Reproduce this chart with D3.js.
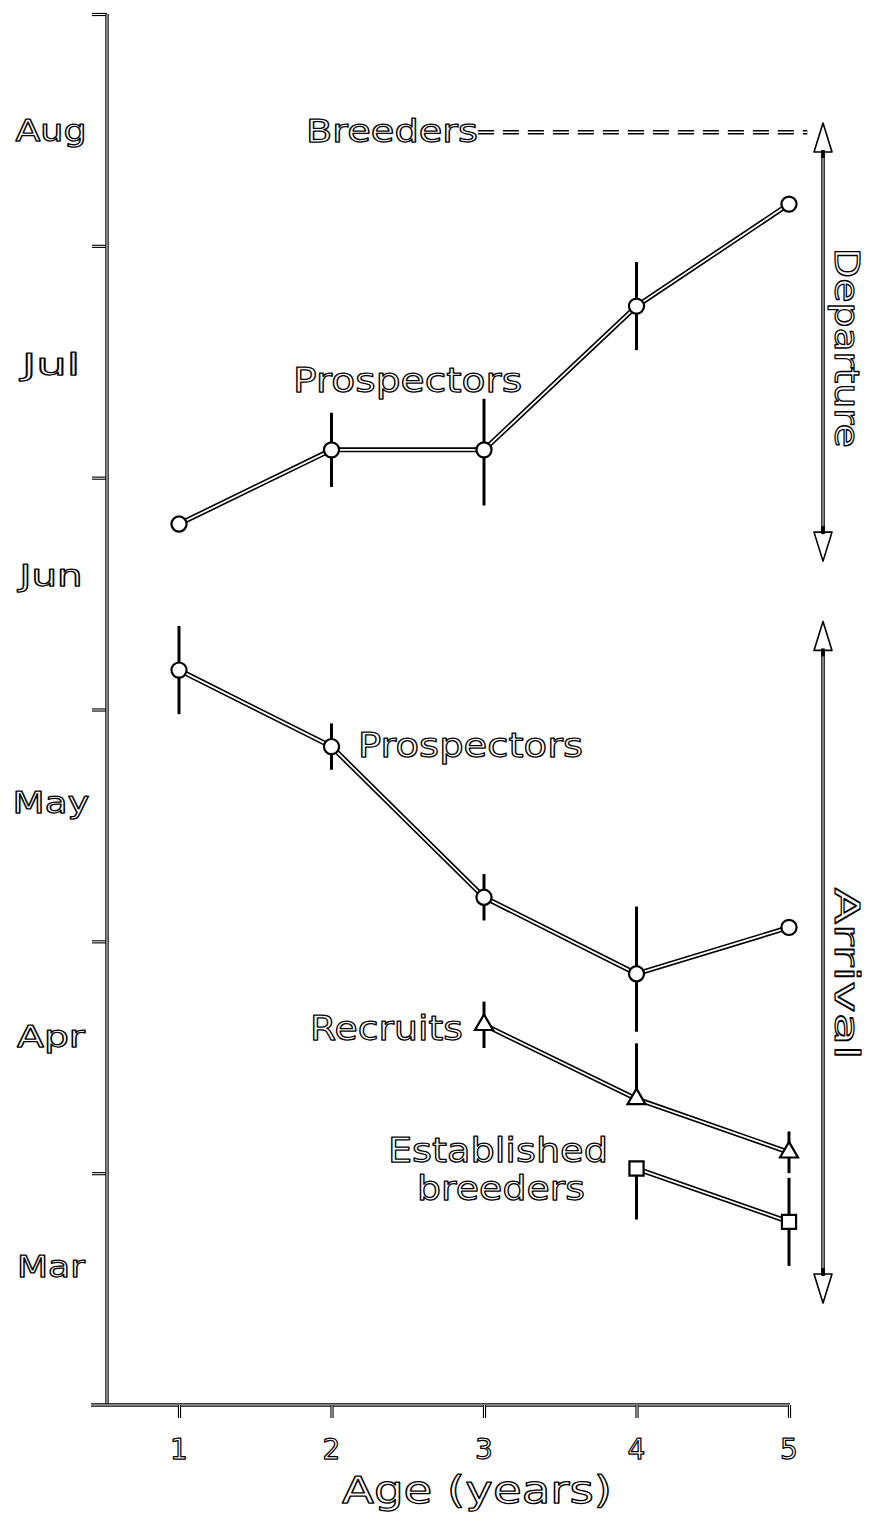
<!DOCTYPE html>
<html><head><meta charset="utf-8">
<script src="https://cdn.jsdelivr.net/npm/d3@7"></script>
<style>body{margin:0;background:#fff}</style>
</head><body>
<script>
// ---- data (y values = months after 1 March) ----
const ages = [1, 2, 3, 4, 5];
const monthLabels = ["Mar", "Apr", "May", "Jun", "Jul", "Aug"];
const monthLabelPos = [0.60, 1.59, 2.60, 3.58, 4.49, 5.50];
const monthTicks = [1, 2, 3, 4, 5, 6];
const depProspectors = [3.80, 4.12, 4.12, 4.74, 5.18];
const depProspectorsErrUp = [0, 0.16, 0.22, 0.19, 0];
const depProspectorsErrDown = [0, 0.16, 0.24, 0.19, 0];
const arrProspectors = [3.17, 2.84, 2.19, 1.86, 2.06];
const arrProspectorsErrUp = [0.19, 0.10, 0.10, 0.29, 0];
const arrProspectorsErrDown = [0.19, 0.10, 0.10, 0.25, 0];
const recruitAges = [3, 4, 5];
const recruits = [1.64, 1.32, 1.09];
const recruitsErrUp = [0.10, 0.24, 0.09];
const recruitsErrDown = [0.10, 0, 0.09];
const breederAges = [4, 5];
const estBreeders = [1.02, 0.79];
const estBreedersErrUp = [0, 0.19];
const estBreedersErrDown = [0.22, 0.19];
const breedersDeparture = 5.49;
const departureRange = [3.64, 5.53];
const arrivalRange = [0.44, 3.38];

const W = 871, H = 1534;
const FONT = "'DejaVu Sans', 'Noto Sans', sans-serif";
const svg = d3.select("body").append("svg").attr("width", W).attr("height", H);

const x = d3.scaleLinear().domain([1, 5]).range([179, 789]);
const y = d3.scaleLinear().domain([0, 6]).range([1405, 14]);
const axisX0 = 107;

// outlined (hollow) stroke helper
function hollow(sel, wOuter, wInner) {
  sel.each(function () {
    const node = this;
    const clone = node.cloneNode(true);
    node.parentNode.insertBefore(clone, node.nextSibling);
    d3.select(node).attr("stroke", "#000").attr("stroke-width", wOuter).attr("fill", "none");
    d3.select(clone).attr("stroke", "#fff").attr("stroke-width", wInner).attr("fill", "none");
  });
}
function outlinedText(g, txt, px, py, size, len, anchor) {
  const t = g.append("text").attr("x", px).attr("y", py).text(txt)
    .attr("font-family", FONT).attr("font-size", size)
    .attr("fill", "#fff").attr("stroke", "#000").attr("stroke-width", 1.25)
    .attr("stroke-linejoin", "round")
    .attr("text-anchor", anchor || "start");
  if (len) t.attr("textLength", len).attr("lengthAdjust", "spacingAndGlyphs");
  return t;
}

// ---- axes ----
const axG = svg.append("g");
const yAxisGen = d3.axisLeft(y).tickValues(monthTicks).tickSize(15).tickSizeOuter(0).tickFormat("");
const yAx = axG.append("g").attr("transform", `translate(${axisX0},0)`).call(yAxisGen);
yAx.select(".domain").remove();
yAx.selectAll("text").remove();
hollow(yAx.selectAll(".tick line"), 3.2, 1);
const yLine = axG.append("line").attr("x1", axisX0).attr("x2", axisX0).attr("y1", y(6)).attr("y2", y(0));
hollow(yLine, 3.4, 1);
const xLine = axG.append("line").attr("x1", axisX0 - 16).attr("x2", x(5) + 1).attr("y1", y(0)).attr("y2", y(0));
hollow(xLine, 3.4, 1);
const xAx = axG.append("g").attr("transform", `translate(0,${y(0)})`)
  .call(d3.axisBottom(x).tickValues(ages).tickSize(13).tickSizeOuter(0).tickFormat(""));
xAx.select(".domain").remove();
hollow(xAx.selectAll(".tick line"), 3.2, 1);

// tick labels
const lblG = svg.append("g");
ages.forEach(a => outlinedText(lblG, String(a), x(a), y(0) + 54, 28, null, "middle"));
const monthWidths = [68, 68, 77, 63, 58, 71];
monthLabels.forEach((m, i) => {
  outlinedText(lblG, m, 51, y(monthLabelPos[i]), 30, monthWidths[i], "middle").attr("dy", "0.36em");
});
outlinedText(lblG, "Age (years)", x(3) - 7, 1503, 37, 270, "middle");

// ---- series ----
const line = d3.line().x(d => x(d[0])).y(d => y(d[1]));
function series(agesArr, vals, up, down, shape) {
  const g = svg.append("g");
  const pts = agesArr.map((a, i) => [a, vals[i]]);
  const p = g.append("path").attr("d", line(pts));
  hollow(p, 5, 1.8);
  g.selectAll("line.err").data(pts).join("line").attr("class", "err")
    .attr("x1", d => x(d[0])).attr("x2", d => x(d[0]))
    .attr("y1", (d, i) => y(d[1] + up[i])).attr("y2", (d, i) => y(d[1] - down[i]))
    .attr("stroke", "#000").attr("stroke-width", 3)
    .style("display", (d, i) => (up[i] + down[i]) > 0 ? null : "none");
  g.selectAll("path.mk").data(pts).join("path").attr("class", "mk")
    .attr("transform", d => `translate(${x(d[0])},${y(d[1])})`)
    .attr("d", d3.symbol().type(shape.type).size(shape.size))
    .attr("fill", "#fff").attr("stroke", "#000").attr("stroke-width", 2.2);
}
series(ages, depProspectors, depProspectorsErrUp, depProspectorsErrDown, {type: d3.symbolCircle, size: 180});
series(ages, arrProspectors, arrProspectorsErrUp, arrProspectorsErrDown, {type: d3.symbolCircle, size: 180});
series(recruitAges, recruits, recruitsErrUp, recruitsErrDown, {type: d3.symbolTriangle, size: 140});
series(breederAges, estBreeders, estBreedersErrUp, estBreedersErrDown, {type: d3.symbolSquare, size: 200});

// ---- breeders dashed line ----
const dash = svg.append("line").attr("x1", x(2.96)).attr("x2", x(5.12))
  .attr("y1", y(breedersDeparture)).attr("y2", y(breedersDeparture))
  .attr("stroke-dasharray", "16 9");
hollow(dash, 4.5, 1.6);

// ---- double-headed arrows ----
function arrow(range) {
  const g = svg.append("g");
  const ax = x(5.223);
  const top = y(range[1]), bot = y(range[0]);
  const shaft = g.append("line").attr("x1", ax).attr("x2", ax).attr("y1", top + 20).attr("y2", bot - 20);
  hollow(shaft, 3.6, 1);
  const hl = 29, hw = 9;
  g.append("path").attr("d", `M${ax},${top}L${ax - hw},${top + hl}L${ax + hw},${top + hl}Z`)
    .attr("fill", "#fff").attr("stroke", "#000").attr("stroke-width", 1.6).attr("stroke-linejoin", "round");
  g.append("path").attr("d", `M${ax},${bot}L${ax - hw},${bot - hl}L${ax + hw},${bot - hl}Z`)
    .attr("fill", "#fff").attr("stroke", "#000").attr("stroke-width", 1.6).attr("stroke-linejoin", "round");
  g.append("line").attr("x1", ax).attr("x2", ax).attr("y1", top + hl - 2).attr("y2", top + hl + 6).attr("stroke", "#000").attr("stroke-width", 3.6);
  g.append("line").attr("x1", ax).attr("x2", ax).attr("y1", bot - hl + 2).attr("y2", bot - hl - 6).attr("stroke", "#000").attr("stroke-width", 3.6);
}
arrow(departureRange);
arrow(arrivalRange);

// ---- annotations ----
const annG = svg.append("g");
outlinedText(annG, "Breeders", x(1.833), y(5.448), 32, 172);
outlinedText(annG, "Prospectors", x(1.748), y(4.37), 34, 229);
outlinedText(annG, "Prospectors", x(2.174), y(2.795), 34, 225);
outlinedText(annG, "Recruits", x(1.859), y(1.574), 34, 153);
outlinedText(annG, "Established", x(2.37), y(1.048), 34, 220);
outlinedText(annG, "breeders", x(2.561), y(0.884), 34, 168);
const rotX = x(5.223) + 12;
outlinedText(annG, "Departure", 0, 0, 34, 200, "middle")
  .attr("transform", `translate(${rotX},${y(4.56)}) rotate(90)`);
outlinedText(annG, "Arrival", 0, 0, 34, 172, "middle")
  .attr("transform", `translate(${rotX},${y(1.86)}) rotate(90)`);
</script>
</body></html>
